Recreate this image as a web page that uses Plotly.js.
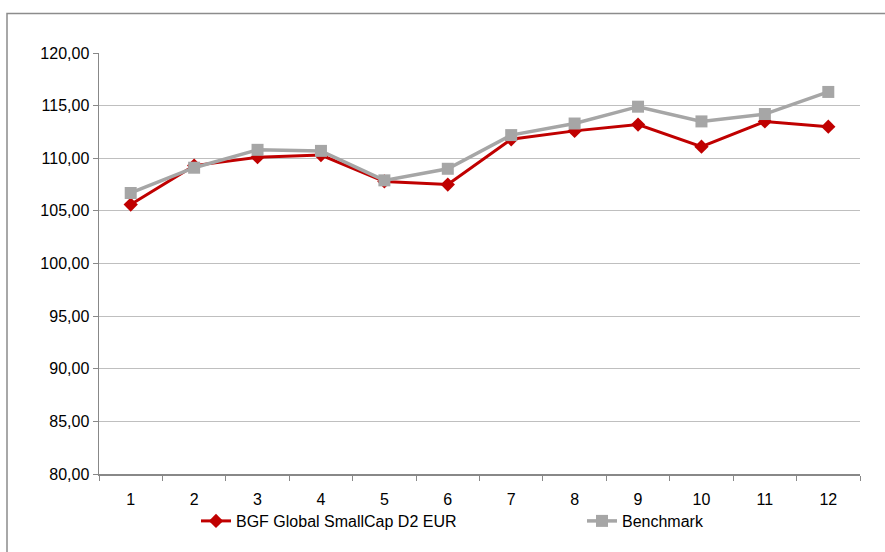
<!DOCTYPE html>
<html>
<head>
<meta charset="utf-8">
<script src="https://cdn.plot.ly/plotly-3.0.1.min.js"></script>
<style>
html,body{margin:0;padding:0;background:#fff;}
#chart{width:885px;height:552px;}
</style>
</head>
<body>
<div id="chart"></div>
<script>
var categories = ["1","2","3","4","5","6","7","8","9","10","11","12"];
var fundName = "BGF Global SmallCap D2 EUR";
var fundValues = [105.6, 109.3, 110.1, 110.3, 107.8, 107.5, 111.8, 112.6, 113.2, 111.1, 113.5, 113.0];
var benchName = "Benchmark";
var benchValues = [106.7, 109.1, 110.8, 110.7, 107.9, 109.0, 112.2, 113.3, 114.9, 113.5, 114.2, 116.3];
var yTicks = [80, 85, 90, 95, 100, 105, 110, 115, 120];

var traces = [
  {
    x: categories, y: fundValues, name: fundName, type: 'scatter', mode: 'lines+markers',
    line: {color: '#C00000', width: 3},
    marker: {symbol: 'diamond', size: 11, color: '#C00000'},
    legend: 'legend'
  },
  {
    x: categories, y: benchValues, name: benchName, type: 'scatter', mode: 'lines+markers',
    line: {color: '#A6A6A6', width: 3.5},
    marker: {symbol: 'square', size: 12, color: '#A6A6A6'},
    legend: 'legend2'
  }
];

var legFont = {size: 16, color: '#000', family: 'Liberation Sans, Arial, sans-serif'};

var layout = {
  width: 885, height: 552,
  margin: {l: 99, r: 25, t: 53, b: 78},
  paper_bgcolor: '#fff', plot_bgcolor: '#fff',
  separators: ',.',
  font: {family: 'Liberation Sans, Arial, sans-serif', size: 16, color: '#000'},
  showlegend: true,
  legend: {
    orientation: 'h', x: (196 - 99) / 761, xanchor: 'left', y: (474 - 521) / 421, yanchor: 'middle',
    font: legFont, bgcolor: 'rgba(0,0,0,0)'
  },
  legend2: {
    orientation: 'h', x: (582 - 99) / 761, xanchor: 'left', y: (474 - 521) / 421, yanchor: 'middle',
    font: legFont, bgcolor: 'rgba(0,0,0,0)'
  },
  xaxis: {
    type: 'category', range: [-0.5, 11.5], tickson: 'boundaries', ticks: 'outside', ticklen: 5, tickcolor: '#888',
    showline: true, linecolor: '#888', linewidth: 1.5, showgrid: false, zeroline: false,
    tickfont: {size: 16}, ticklabelstandoff: 10, fixedrange: true
  },
  yaxis: {
    range: [80, 120], tickvals: yTicks, tickformat: '.2f', ticks: 'outside', ticklen: 5,
    tickcolor: '#888', showline: true, linecolor: '#888', linewidth: 1.5,
    showgrid: true, gridcolor: '#BFBFBF', gridwidth: 1.2, zeroline: false,
    tickfont: {size: 16}, fixedrange: true
  },
  shapes: [
    {type: 'rect', xref: 'paper', yref: 'paper',
     x0: (7 - 99) / 761, x1: (890 - 99) / 761,
     y0: (474 - 560) / 421, y1: 1 + (53 - 13.5) / 421,
     line: {color: '#8C8C8C', width: 1.5}, fillcolor: 'rgba(0,0,0,0)', layer: 'below'}
  ]
};

Plotly.newPlot('chart', traces, layout, {displayModeBar: false, staticPlot: true});
</script>
</body>
</html>
